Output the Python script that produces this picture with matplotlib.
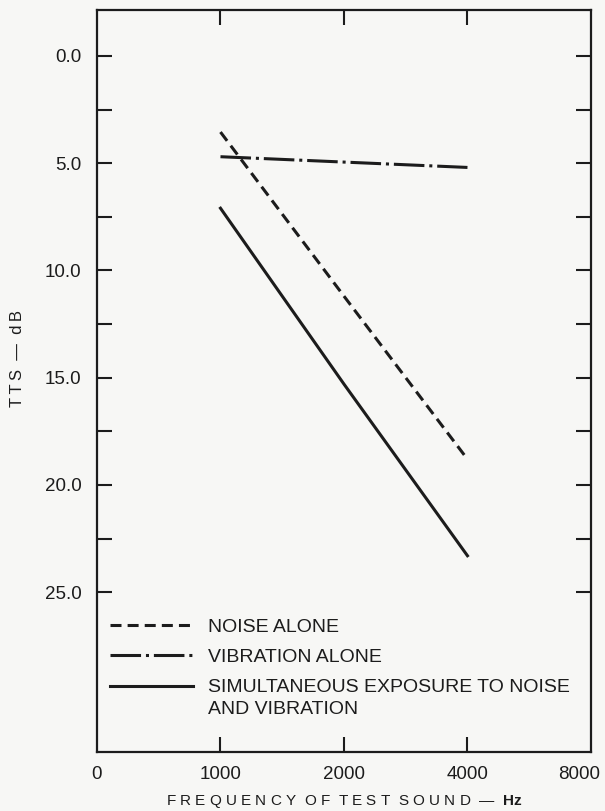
import matplotlib
matplotlib.use("Agg")
import matplotlib.pyplot as plt
from matplotlib.ticker import NullLocator
from matplotlib.transforms import ScaledTranslation

plt.rcParams['font.family'] = ['Liberation Sans', 'DejaVu Sans']
plt.rcParams['mathtext.fontset'] = 'custom'
plt.rcParams['mathtext.bf'] = 'Liberation Sans:bold'
plt.rcParams['mathtext.rm'] = 'Liberation Sans'

# temporary threshold shift at each test frequency
freq = [1000, 2000, 4000]
noise_alone = [3.55, 11.2, 18.8]
vibration_alone = [4.7, 4.95, 5.2]
combined = [7.1, 15.3, 23.3]

series_labels = ['NOISE ALONE', 'VIBRATION ALONE',
                 'SIMULTANEOUS EXPOSURE TO NOISE\nAND VIBRATION']

xtick_pos = [500, 1000, 2000, 4000, 8000]
xtick_labels = ['0', '1000', '2000', '4000', '8000']
ytick_major = [0, 5, 10, 15, 20, 25]
ytick_labels = ['0.0', '5.0', '10.0', '15.0', '20.0', '25.0']
ytick_minor = [2.5, 7.5, 12.5, 17.5, 22.5]

bg = '#f7f7f5'
ink = '#1c1c1c'

fig = plt.figure(figsize=(6.05, 8.11), dpi=100, facecolor=bg)
ax = fig.add_axes([0.1603, 0.0727, 0.8165, 0.915], facecolor=bg)

lw = 2.2
ax.plot(freq, noise_alone, color=ink, lw=lw, ls=(0, (3.6, 2.0)),
        label=series_labels[0])
ax.plot(freq, vibration_alone, color=ink, lw=lw, ls=(0, (10, 1.6, 1.0, 1.6)),
        label=series_labels[1])
ax.plot(freq, combined, color=ink, lw=lw, ls='-', label=series_labels[2])

ax.set_xscale('log', base=2)
ax.set_xlim(500, 8000)
ax.set_xticks(xtick_pos)
ax.set_xticklabels(xtick_labels)
ax.xaxis.set_minor_locator(NullLocator())

ax.set_ylim(32.45, -2.14)
ax.set_yticks(ytick_major)
ax.set_yticklabels(ytick_labels)
ax.set_yticks(ytick_minor, minor=True)

for s in ax.spines.values():
    s.set_linewidth(1.6)
    s.set_color(ink)

ax.tick_params(axis='both', which='both', direction='in', length=11, width=1.5,
               color=ink, labelcolor=ink, labelsize=13.5,
               top=True, right=True, left=True, bottom=True)
ax.tick_params(axis='y', pad=11)
ax.tick_params(axis='x', pad=10)

# no tick marks at the ends of the frequency axis, only labels
for t in (ax.xaxis.get_major_ticks()[0], ax.xaxis.get_major_ticks()[-1]):
    t.tick1line.set_visible(False)
    t.tick2line.set_visible(False)
last = ax.get_xticklabels()[-1]
last.set_transform(last.get_transform() + ScaledTranslation(-0.12, 0, fig.dpi_scale_trans))

ax.set_xlabel(r'F R E Q U E N C Y  O F  T E S T  S O U N D  —  $\mathbf{Hz}$',
              fontsize=11, color=ink)
ax.xaxis.set_label_coords(0.5, -0.055)
ax.set_ylabel('T\u2009T\u2009S  —  d\u2009B', fontsize=12, color=ink)
ax.yaxis.set_label_coords(-0.146, 0.53)

leg = ax.legend(loc='upper left', bbox_to_anchor=(-0.01, 0.204), frameon=False,
                handlelength=4.3, handletextpad=0.75, labelspacing=0.65,
                fontsize=14)
for txt in leg.get_texts():
    txt.set_color(ink)
    txt.set_linespacing(1.4)

# line up the two-line entry's key with its first line
solid_key = leg.legend_handles[2]
solid_key.set_ydata([y + 8.5 for y in solid_key.get_ydata()])

fig.savefig('out.png', dpi=100, facecolor=bg)
